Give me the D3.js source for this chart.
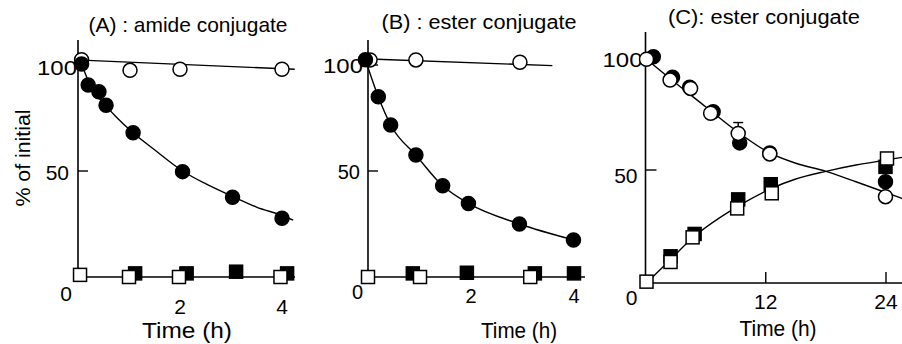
<!DOCTYPE html>
<html>
<head>
<meta charset="utf-8">
<script src="https://cdn.jsdelivr.net/npm/d3@7"></script>
<style>
  html, body { margin: 0; padding: 0; background: #fff; }
  svg { display: block; }
  text { font-family: "Liberation Sans", Arial, Helvetica, sans-serif; fill: #000; }
</style>
</head>
<body>
<svg id="chart" width="902" height="344"></svg>
<script>
// ---------------- DATA ----------------
// Panel A : amide conjugate (time in h, % of initial)
const aTitle = "(A) : amide conjugate";
const aXTicks = [2, 4];
const aYTicks = [0, 50, 100];
const aOpenCircT = [0.07, 1.02, 2.0, 4.0];
const aOpenCircV = [102.5, 97.5, 98, 98];
const aFilledCircT = [0.07, 0.2, 0.41, 0.55, 1.08, 2.05, 3.03, 4.0];
const aFilledCircV = [100.5, 90.6, 87.4, 81, 68, 49.7, 37.6, 27.7];
const aOpenSqT = [0.04, 1.0, 1.98, 3.97];
const aOpenSqV = [1, 0, 0, 0];
const aFilledSqT = [1.12, 2.13, 3.1, 4.1];
const aFilledSqV = [1.7, 1.7, 2.5, 1.7];
const aOpenFitT = [0.07, 4.25];
const aOpenFitV = [102.3, 98.0];
const aFilledFitT = [0.07, 0.25, 0.5, 0.75, 1.08, 1.5, 2.05, 2.5, 3.03, 3.5, 4.0, 4.22];
const aFilledFitV = [100.5, 90, 82, 75.5, 68, 60, 50, 44, 38, 33, 29, 26.8];

// Panel B : ester conjugate (h)
const bTitle = "(B) : ester conjugate";
const bXTicks = [2, 4];
const bYTicks = [0, 50, 100];
const bOpenCircT = [0.04, 0.93, 2.95];
const bOpenCircV = [102.4, 102.4, 101.3];
const bFilledCircT = [-0.05, 0.2, 0.44, 0.93, 1.45, 1.95, 2.94, 3.99];
const bFilledCircV = [102.5, 85, 71.7, 57.5, 43, 34.7, 25, 17.5];
const bOpenSqT = [0, 1.01, 3.15];
const bOpenSqV = [0, 0, 0];
const bFilledSqT = [0.87, 1.92, 3.24, 4.0];
const bFilledSqV = [1.7, 2, 1.7, 1.7];
const bOpenFitT = [0.04, 3.58];
const bOpenFitV = [102.8, 99.7];

// Panel C : ester conjugate (long time course, h)
const cTitle = "(C): ester conjugate";
const cXTicks = [12, 24];
const cYTicks = [0, 50, 100];
const cOpenCircT = [0.1, 2.45, 4.5, 6.5, 9.25, 12.4, 23.95];
const cOpenCircV = [99, 89.8, 86.1, 75.1, 66.2, 57.1, 38.2];
const cOpenCircErr = [0, 0, 0, 0, 4.8, 0, 0];
const cFilledCircT = [0.78, 2.7, 4.4, 6.75, 9.4, 12.4, 23.95];
const cFilledCircV = [100.1, 91, 86.6, 75.8, 62, 57.5, 44.8];
const cOpenSqT = [0.1, 2.5, 4.7, 9.15, 12.6, 24.1];
const cOpenSqV = [0.6, 9.3, 20.2, 33, 39.7, 55.1];
const cFilledSqT = [2.5, 4.9, 9.25, 12.5, 23.95];
const cFilledSqV = [11.8, 21.7, 37, 43.7, 51.4];
const cCircFitT = [0.1, 3, 6, 9, 12, 15, 18, 21, 24, 25.6];
const cCircFitV = [99, 88.5, 78, 67.5, 58.5, 53, 49.4, 44.8, 40, 37.4];
const cSqFitT = [0.1, 2.45, 4.77, 9.25, 12.6, 15, 17.9, 21, 24, 25.6];
const cSqFitV = [0, 10.2, 20.2, 34, 41.9, 46, 49.3, 52.2, 54.4, 55.6];

const xLabel = "Time (h)";
const yLabel = "% of initial";

// ---------------- DRAWING ----------------
const svg = d3.select("#chart");
const zip = (t, v) => t.map((d, i) => [d, v[i]]);

function makePanel(cfg) {
  const g = svg.append("g");
  const x = d3.scaleLinear().domain(cfg.xDomain).range(cfg.xRange);
  const y = d3.scaleLinear().domain([0, 100]).range(cfg.yRange);
  const ax = cfg.xRange[0], ay = cfg.yRange[0];

  // axes lines
  g.append("line").attr("x1", ax).attr("x2", ax).attr("y1", cfg.axisTop).attr("y2", ay)
    .attr("stroke", "#000").attr("stroke-width", 1.6);
  g.append("line").attr("x1", ax).attr("x2", cfg.axisRight).attr("y1", ay).attr("y2", ay)
    .attr("stroke", "#000").attr("stroke-width", 1.6);
  // inward ticks
  cfg.yTicks.filter(d => d > 0).forEach(d => {
    g.append("line").attr("x1", ax).attr("x2", ax + cfg.tickLen).attr("y1", y(d)).attr("y2", y(d))
      .attr("stroke", "#000").attr("stroke-width", 1.4);
  });
  cfg.xTicks.forEach(d => {
    g.append("line").attr("x1", x(d)).attr("x2", x(d)).attr("y1", ay).attr("y2", ay - cfg.tickLen)
      .attr("stroke", "#000").attr("stroke-width", 1.4);
  });
  // y tick labels
  cfg.yTicks.forEach(d => {
    const p = cfg.yLabelPos[d];
    const t = g.append("text").attr("x", ax + p.dx).attr("y", (d === 0 ? p.y : y(d) + p.dy))
      .attr("text-anchor", "end").attr("dominant-baseline", "central")
      .attr("font-size", cfg.tickFont).text(d);
    if (p.w) t.attr("textLength", p.w).attr("lengthAdjust", "spacingAndGlyphs");
  });
  // x tick labels
  cfg.xTicks.forEach(d => {
    g.append("text").attr("x", x(d)).attr("y", cfg.xTickLabelY)
      .attr("text-anchor", "middle").attr("dominant-baseline", "central")
      .attr("font-size", cfg.tickFont).text(d);
  });
  // title
  g.append("text").attr("x", cfg.titlePos[0]).attr("y", cfg.titlePos[1])
    .attr("text-anchor", "middle").attr("dominant-baseline", "central")
    .attr("font-size", cfg.titleFont).attr("textLength", cfg.titleW).attr("lengthAdjust", "spacingAndGlyphs")
    .text(cfg.title);
  // x label
  g.append("text").attr("x", cfg.xLabelPos[0]).attr("y", cfg.xLabelPos[1])
    .attr("text-anchor", "middle").attr("dominant-baseline", "central")
    .attr("font-size", cfg.xLabelFont).attr("textLength", cfg.xLabelW).attr("lengthAdjust", "spacingAndGlyphs")
    .text(xLabel);

  const line = d3.line().x(d => x(d[0])).y(d => y(d[1]));
  (cfg.fits || []).forEach(f => {
    g.append("path").datum(f.pts)
      .attr("d", line.curve(f.curve || d3.curveMonotoneX))
      .attr("fill", "none").attr("stroke", "#000").attr("stroke-width", 1.4);
  });

  const r = 7, s = 13;
  const drawSq = (pts, filled) => g.selectAll(null).data(pts).enter().append("rect")
    .attr("x", d => x(d[0]) - s / 2).attr("y", d => y(d[1]) - s / 2)
    .attr("width", s).attr("height", s)
    .attr("fill", filled ? "#000" : "#fff").attr("stroke", "#000").attr("stroke-width", 1.5);
  const drawCirc = (pts, filled) => g.selectAll(null).data(pts).enter().append("circle")
    .attr("cx", d => x(d[0])).attr("cy", d => y(d[1])).attr("r", r)
    .attr("fill", filled ? "#000" : "#fff").attr("stroke", "#000").attr("stroke-width", 1.5);

  // error bars
  (cfg.errs || []).forEach(e => {
    e.pts.forEach((d, i) => {
      const er = e.err[i];
      if (!er) return;
      const cx = x(d[0]);
      g.append("line").attr("x1", cx).attr("x2", cx).attr("y1", y(d[1])).attr("y2", y(d[1] + er))
        .attr("stroke", "#000").attr("stroke-width", 1.4);
      g.append("line").attr("x1", cx - 5).attr("x2", cx + 5).attr("y1", y(d[1] + er)).attr("y2", y(d[1] + er))
        .attr("stroke", "#000").attr("stroke-width", 1.4);
    });
  });

  cfg.marks.forEach(m => {
    if (m.shape === "sq") drawSq(m.pts, m.filled); else drawCirc(m.pts, m.filled);
  });
}

// Panel A
makePanel({
  xDomain: [0, 4], xRange: [78, 282], yRange: [277, 65], axisTop: 40, axisRight: 295, tickLen: 10,
  xTicks: aXTicks, yTicks: aYTicks, tickFont: 21,
  yLabelPos: { 0: { dx: -6, y: 293 }, 50: { dx: -9, dy: 1 }, 100: { dx: -1, dy: 2, w: 40 } },
  xTickLabelY: 306,
  title: aTitle, titlePos: [188, 24], titleFont: 21, titleW: 199,
  xLabelPos: [187, 330], xLabelFont: 22, xLabelW: 90,
  fits: [
    { pts: zip(aOpenFitT, aOpenFitV), curve: d3.curveLinear },
    { pts: zip(aFilledFitT, aFilledFitV) }
  ],
  marks: [
    { shape: "sq", filled: true, pts: zip(aFilledSqT, aFilledSqV) },
    { shape: "sq", filled: false, pts: zip(aOpenSqT, aOpenSqV) },
    { shape: "circ", filled: false, pts: zip(aOpenCircT, aOpenCircV) },
    { shape: "circ", filled: true, pts: zip(aFilledCircT, aFilledCircV) }
  ]
});

// Panel B
makePanel({
  xDomain: [0, 4], xRange: [368, 574], yRange: [277, 65], axisTop: 40, axisRight: 585, tickLen: 10,
  xTicks: bXTicks, yTicks: bYTicks, tickFont: 20,
  yLabelPos: { 0: { dx: -5, y: 292 }, 50: { dx: -8, dy: 1 }, 100: { dx: -5, dy: 1, w: 40 } },
  xTickLabelY: 296,
  title: bTitle, titlePos: [479, 22], titleFont: 20, titleW: 195,
  xLabelPos: [519, 330], xLabelFont: 22, xLabelW: 76,
  fits: [
    { pts: zip(bOpenFitT, bOpenFitV), curve: d3.curveLinear },
    { pts: zip(bFilledCircT, bFilledCircV) }
  ],
  marks: [
    { shape: "sq", filled: true, pts: zip(bFilledSqT, bFilledSqV) },
    { shape: "sq", filled: false, pts: zip(bOpenSqT, bOpenSqV) },
    { shape: "circ", filled: false, pts: zip(bOpenCircT, bOpenCircV) },
    { shape: "circ", filled: true, pts: zip(bFilledCircT, bFilledCircV) }
  ]
});

// Panel C
makePanel({
  xDomain: [0, 24], xRange: [645.5, 886], yRange: [283, 57], axisTop: 32, axisRight: 902, tickLen: 11,
  xTicks: cXTicks, yTicks: cYTicks, tickFont: 21,
  yLabelPos: { 0: { dx: -8, y: 297 }, 50: { dx: -8, dy: 5 }, 100: { dx: -3, dy: 2, w: 40 } },
  xTickLabelY: 301,
  title: cTitle, titlePos: [764, 17], titleFont: 20, titleW: 192,
  xLabelPos: [778, 328], xLabelFont: 22, xLabelW: 77,
  fits: [
    { pts: zip(cCircFitT, cCircFitV) },
    { pts: zip(cSqFitT, cSqFitV) }
  ],
  errs: [{ pts: zip(cOpenCircT, cOpenCircV), err: cOpenCircErr }],
  marks: [
    { shape: "circ", filled: true, pts: zip(cFilledCircT, cFilledCircV) },
    { shape: "circ", filled: false, pts: zip(cOpenCircT, cOpenCircV) },
    { shape: "sq", filled: true, pts: zip(cFilledSqT, cFilledSqV) },
    { shape: "sq", filled: false, pts: zip(cOpenSqT, cOpenSqV) }
  ]
});

// y-axis title (panel A only)
svg.append("text").attr("transform", "translate(22,158) rotate(-90)")
  .attr("text-anchor", "middle").attr("dominant-baseline", "central")
  .attr("font-size", 21).attr("textLength", 97).attr("lengthAdjust", "spacingAndGlyphs")
  .text(yLabel);
</script>
</body>
</html>
